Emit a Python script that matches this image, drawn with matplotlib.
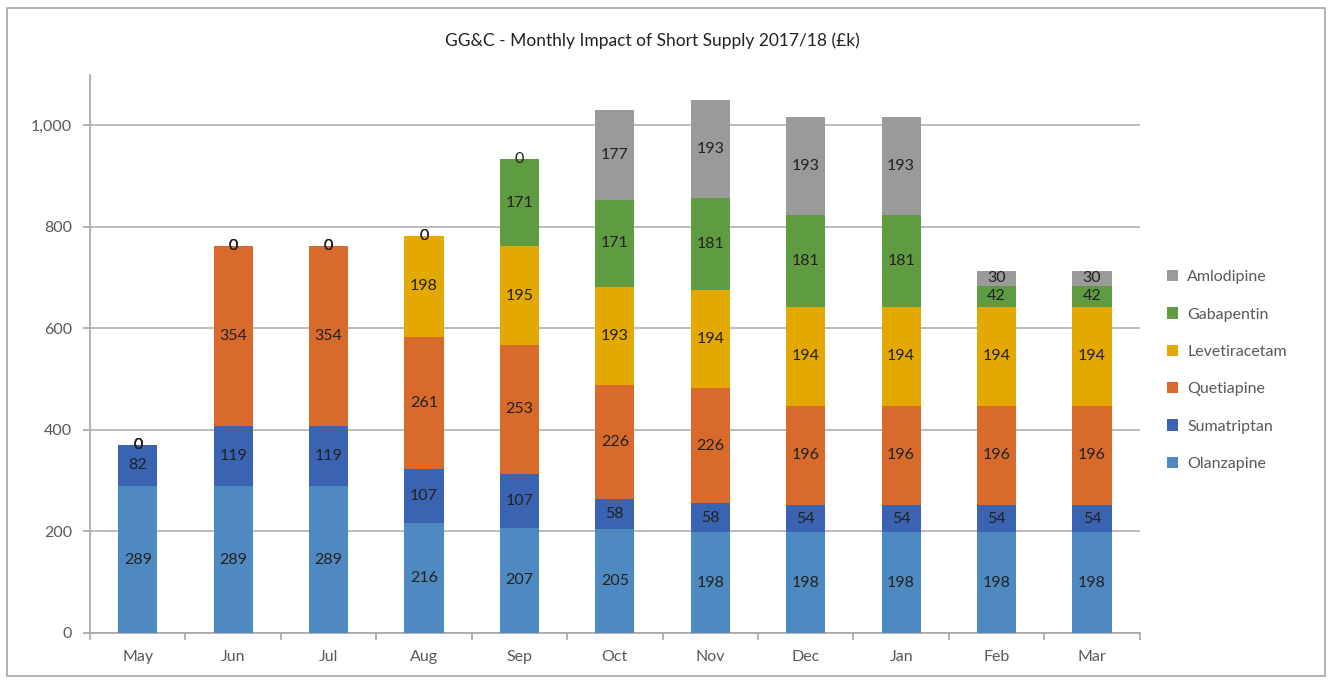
import numpy as np
import matplotlib.pyplot as plt
from matplotlib.patches import Rectangle

plt.rcParams['font.family'] = ['Lato', 'DejaVu Sans']

months = ['May', 'Jun', 'Jul', 'Aug', 'Sep', 'Oct', 'Nov', 'Dec', 'Jan', 'Feb', 'Mar']

# stacked from bottom to top
olanzapine    = [289, 289, 289, 216, 207, 205, 198, 198, 198, 198, 198]
sumatriptan   = [82, 119, 119, 107, 107, 58, 58, 54, 54, 54, 54]
quetiapine    = [0, 354, 354, 261, 253, 226, 226, 196, 196, 196, 196]
levetiracetam = [0, 0, 0, 198, 195, 193, 194, 194, 194, 194, 194]
gabapentin    = [0, 0, 0, 0, 171, 171, 181, 181, 181, 42, 42]
amlodipine    = [0, 0, 0, 0, 0, 177, 193, 193, 193, 30, 30]

series = [
    ('Olanzapine', olanzapine, '#4F89C1'),
    ('Sumatriptan', sumatriptan, '#3A63B1'),
    ('Quetiapine', quetiapine, '#D86B2B'),
    ('Levetiracetam', levetiracetam, '#E4A900'),
    ('Gabapentin', gabapentin, '#5F9B41'),
    ('Amlodipine', amlodipine, '#9A9A9A'),
]

fig = plt.figure(figsize=(13.32, 6.81), dpi=100)
ax = fig.add_axes([0.0676, 0.0705, 0.788, 0.82])

# outer chart border
fig.patches.append(Rectangle((0.005, 0.008), 0.99, 0.98, transform=fig.transFigure,
                             fill=False, edgecolor='#A6A6A6', linewidth=1.2))

x = np.arange(len(months))
bottom = np.zeros(len(months))
handles = []
for name, vals, col in series:
    vals = np.array(vals, dtype=float)
    bars = ax.bar(x, vals, width=0.41, bottom=bottom, color=col, label=name,
                  linewidth=0, zorder=3)
    ax.bar_label(bars, labels=[f'{int(v)}' for v in vals], label_type='center',
                 fontsize=11.5, color='#222222', zorder=4)
    handles.append(bars)
    bottom += vals

ax.set_xlim(-0.5, len(months) - 0.5)
ax.set_ylim(0, 1100)
ax.set_yticks(range(0, 1001, 200))
ax.set_yticklabels([f'{v:,}' for v in range(0, 1001, 200)])
ax.yaxis.grid(True, color='#BDBDBD', linewidth=1.4, zorder=0)
ax.set_axisbelow(True)

ax.set_xticks(x)
ax.set_xticklabels(months)
ax.set_xticks(np.arange(-0.5, len(months)), minor=True)
ax.tick_params(axis='x', which='major', length=0, pad=12, labelsize=11.5, labelcolor='#595959')
ax.tick_params(axis='x', which='minor', length=5, color='#A6A6A6', width=1.2)
ax.tick_params(axis='y', length=5, color='#A6A6A6', width=1.2, labelsize=11.5,
               labelcolor='#595959', pad=8)

for s in ['top', 'right']:
    ax.spines[s].set_visible(False)
for s in ['left', 'bottom']:
    ax.spines[s].set_color('#A6A6A6')
    ax.spines[s].set_linewidth(1.2)

fig.text(0.49, 0.94, 'GG&C - Monthly Impact of Short Supply 2017/18 (£k)',
         ha='center', va='center', fontsize=12.5, color='#222222')

leg = fig.legend(handles[::-1], [s[0] for s in series][::-1], loc='center left',
                 bbox_to_anchor=(0.865, 0.456), frameon=False, fontsize=11.5,
                 handlelength=0.7, handleheight=0.7, labelspacing=1.45, handletextpad=0.6)
for t in leg.get_texts():
    t.set_color('#595959')

fig.savefig('out.png', dpi=100)
